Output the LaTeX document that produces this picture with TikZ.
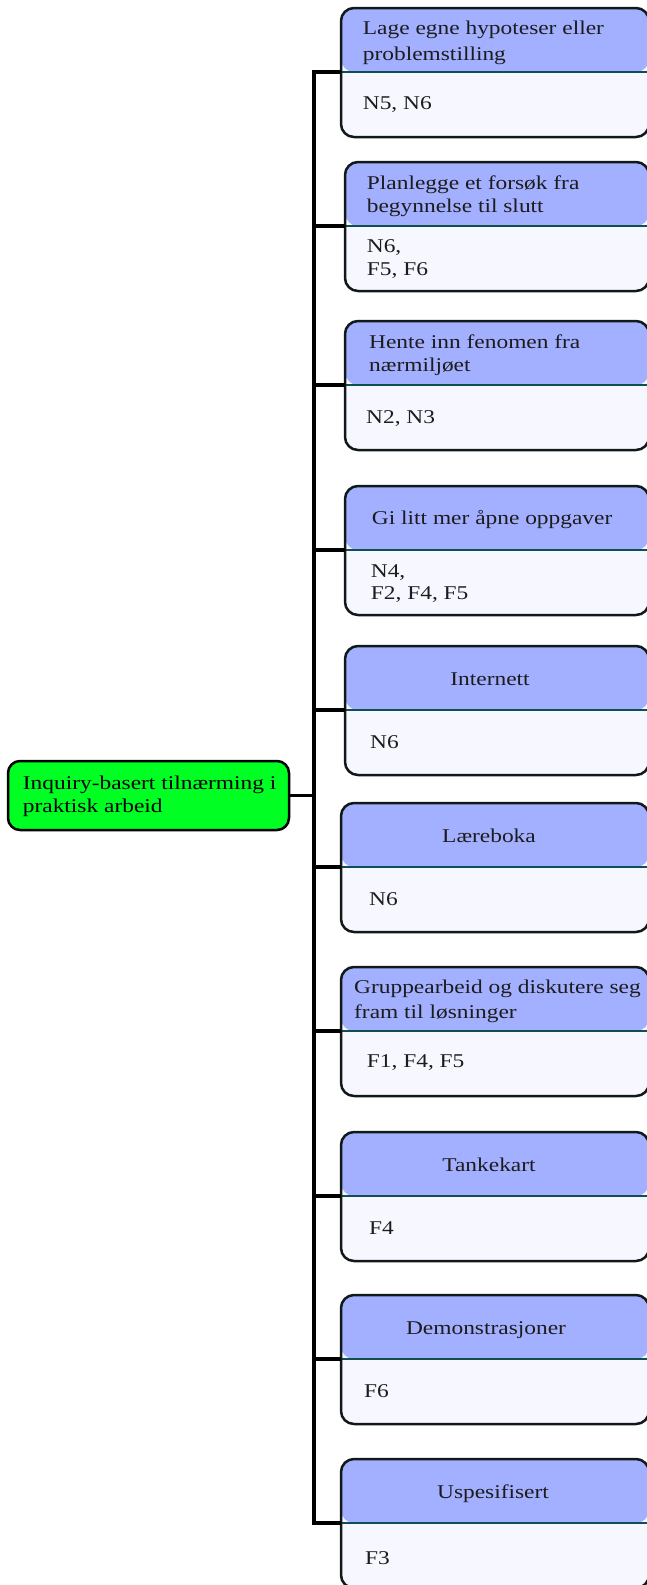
\documentclass[tikz,border=0pt]{standalone}
\usepackage{fontspec}
\setmainfont{Liberation Serif}[FakeStretch=1.2]
\usetikzlibrary{calc}
\definecolor{headfill}{HTML}{A3B0FF}
\definecolor{bodyfill}{HTML}{F7F8FF}
\definecolor{rootfill}{HTML}{00FF22}
\definecolor{divline}{HTML}{0E4F4F}
\definecolor{cardline}{HTML}{101818}
\definecolor{txt}{HTML}{1C1C1C}
\begin{document}
\begin{tikzpicture}[x=1pt,y=-1pt,
  every node/.style={font=\fontsize{19.5}{23}\selectfont},
  card/.style={draw=cardline, line width=2.5pt, rounded corners=13pt, fill=bodyfill,
    minimum width=308pt, minimum height=129pt, inner sep=0pt, outer sep=0pt,
    anchor=north west,
    path picture={
      \fill[headfill] (path picture bounding box.north west) rectangle
        ([yshift=-64pt]path picture bounding box.north east);
      \draw[divline, line width=2.4pt]
        ([yshift=-64pt]path picture bounding box.north west) --
        ([yshift=-64pt]path picture bounding box.north east);}},
  narrow/.style={minimum width=304pt},
  root/.style={draw=black, line width=2.5pt, rounded corners=12pt, fill=rootfill,
    minimum width=281pt, minimum height=69pt, inner sep=0pt, outer sep=0pt,
    anchor=north west},
  label/.style={inner sep=0pt, text=txt, anchor=base west},
  clabel/.style={inner sep=0pt, text=txt, anchor=base},
  conn/.style={draw=black, line width=3.8pt, line join=miter}
]
\useasboundingbox (0,0) rectangle (647,1585);
\fill[white] (0,0) rectangle (647,1585);

% root topic
\node[root] (root) at (8,761) {};
\node[label, text=black] (roota) at (22.7,789.3) {Inquiry-basert tilnærming i};
\node[label, text=black] (rootb) at (22.7,812.7) {praktisk arbeid};

% spine of the tree
\coordinate (spine) at (314,0);

% cards
\node[card]         (b1)  at (341,8)    {};
\node[card, narrow] (b2)  at (345,162)  {};
\node[card, narrow] (b3)  at (345,321)  {};
\node[card, narrow] (b4)  at (345,486)  {};
\node[card, narrow] (b5)  at (345,646)  {};
\node[card]         (b6)  at (341,803)  {};
\node[card]         (b7)  at (341,967)  {};
\node[card]         (b8)  at (341,1132) {};
\node[card]         (b9)  at (341,1295) {};
\node[card]         (b10) at (341,1459) {};

% branch points on each card divider
\foreach \i in {1,...,10}{
  \coordinate (d\i) at ([yshift=-64pt]b\i.north west);
}

% connectors
\foreach \i in {1,...,10}{
  \draw[conn] (root.east) -- (root.east -| spine) |- (d\i);
}

% card headings
\node[label] (h1a) at (362.7,34.7)  {Lage egne hypoteser eller};
\node[label] (h1b) at (362.7,60.3)  {problemstilling};
\node[label] (h2a) at (366.7,189.3) {Planlegge et forsøk fra};
\node[label] (h2b) at (366.7,212)   {begynnelse til slutt};
\node[label] (h3a) at (369,348)     {Hente inn fenomen fra};
\node[label] (h3b) at (369,371)     {nærmiljøet};
\node[label] (h4)  at (371.7,524)   {Gi litt mer åpne oppgaver};
\node[clabel] (h5) at (490,685)     {Internett};
\node[clabel] (h6) at (489,842)     {Læreboka};
\node[label] (h7a) at (354,993.3)   {Gruppearbeid og diskutere seg};
\node[label] (h7b) at (354,1018.3)  {fram til løsninger};
\node[clabel] (h8) at (489,1171)    {Tankekart};
\node[clabel] (h9) at (486,1334)    {Demonstrasjoner};
\node[clabel] (h10) at (493,1498.3) {Uspesifisert};

% card contents
\node[label] (t1)  at (362.7,109.7) {N5, N6};
\node[label] (t2a) at (366.7,252.7) {N6,};
\node[label] (t2b) at (366.7,275.3) {F5, F6};
\node[label] (t3)  at (366,423)     {N2, N3};
\node[label] (t4a) at (370.7,577.3) {N4,};
\node[label] (t4b) at (370.7,599.3) {F2, F4, F5};
\node[label] (t5)  at (370,748.3)   {N6};
\node[label] (t6)  at (369,905)     {N6};
\node[label] (t7)  at (366.7,1067.7){F1, F4, F5};
\node[label] (t8)  at (369,1234)    {F4};
\node[label] (t9)  at (364,1397)    {F6};
\node[label] (t10) at (365,1564)    {F3};
\end{tikzpicture}
\end{document}
